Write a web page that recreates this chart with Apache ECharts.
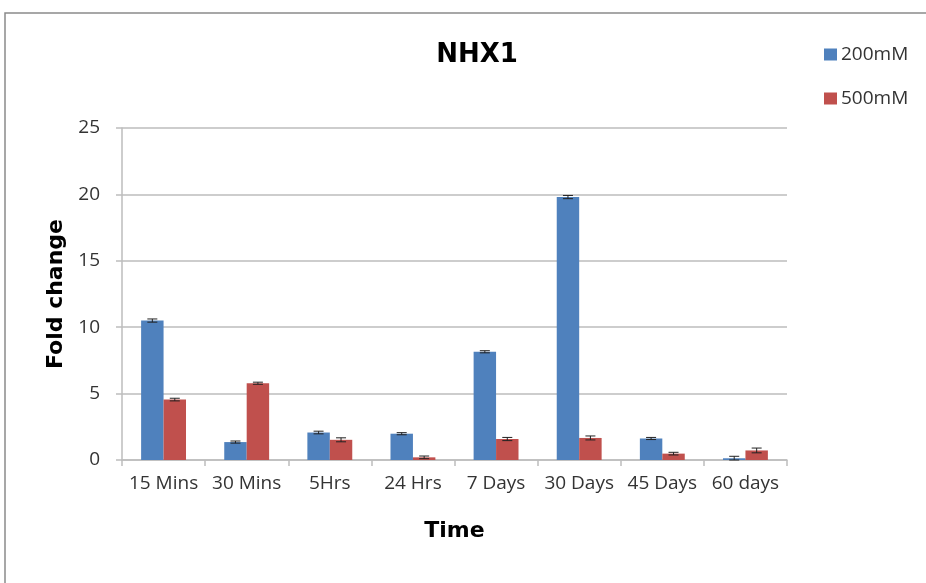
<!DOCTYPE html>
<html>
<head>
<meta charset="utf-8">
<script src="https://cdn.jsdelivr.net/npm/echarts@6/dist/echarts.min.js"></script>
<style>html,body{margin:0;padding:0;background:#fff}#c{width:926px;height:583px}</style>
</head>
<body>
<div id="c"></div>
<script>
var categories = ['15 Mins', '30 Mins', '5Hrs', '24 Hrs', '7 Days', '30 Days', '45 Days', '60 days'];
var values200 = [10.5, 1.35, 2.07, 1.98, 8.15, 19.8, 1.62, 0.13];
var values500 = [4.55, 5.78, 1.52, 0.2, 1.58, 1.66, 0.48, 0.72];
var err200 = [0.12, 0.08, 0.1, 0.08, 0.08, 0.12, 0.08, 0.15];
var err500 = [0.1, 0.08, 0.15, 0.1, 0.12, 0.15, 0.1, 0.18];
var yTicks = [0, 5, 10, 15, 20, 25];

var BLUE = '#4F81BD', RED = '#C0504D';
var catGap = 0.46;
var FONT = 'Open Sans';

function errSeries(vals, errs, side) {
  return {
    type: 'custom',
    z: 5,
    silent: true,
    data: vals.map(function (v, i) { return [i, v, errs[i]]; }),
    renderItem: function (params, api) {
      var i = api.value(0), v = api.value(1), e = api.value(2);
      var band = api.size([1, 0])[0];
      var barW = band * (1 - catGap) / 2;
      var c = api.coord([i, v]);
      var x = c[0] + side * barW / 2;
      var top = api.coord([i, v + e])[1];
      var bot = api.coord([i, Math.max(0, v - e)])[1];
      var style = { stroke: '#222', lineWidth: 1 };
      return {
        type: 'group',
        children: [
          { type: 'line', shape: { x1: x, y1: top, x2: x, y2: bot }, style: style },
          { type: 'line', shape: { x1: x - 5, y1: top, x2: x + 5, y2: top }, style: style },
          { type: 'line', shape: { x1: x - 5, y1: bot, x2: x + 5, y2: bot }, style: style }
        ]
      };
    }
  };
}

var chart = echarts.init(document.getElementById('c'), null, { renderer: 'canvas' });
chart.setOption({
  animation: false,
  backgroundColor: '#fff',
  textStyle: { fontFamily: FONT },
  title: {
    text: 'NHX1',
    left: 472, top: 37,
    textAlign: 'center',
    textStyle: { fontFamily: 'DejaVu Sans', fontWeight: 'bold', fontSize: 26, color: '#000' }
  },
  legend: {
    orient: 'vertical',
    left: 819, top: 40,
    itemWidth: 13, itemHeight: 12, itemGap: 25,
    icon: 'rect',
    textStyle: { fontFamily: FONT, fontSize: 19, color: '#333', padding: [0, 0, 0, -1] },
    data: ['200mM', '500mM']
  },
  graphic: [{
    type: 'rect',
    shape: { x: 5, y: 13, width: 940, height: 600 },
    style: { fill: 'none', stroke: '#8a8a8a', lineWidth: 1.5 },
    silent: true
  }],
  grid: { left: 122, right: 139, top: 128, bottom: 123, containLabel: false },
  xAxis: {
    type: 'category',
    data: categories,
    name: 'Time',
    nameLocation: 'middle',
    nameGap: 60,
    nameTextStyle: { fontFamily: 'DejaVu Sans', fontWeight: 'bold', fontSize: 22, color: '#000' },
    axisLine: { lineStyle: { color: '#bdbdbd', width: 1.5 } },
    axisTick: { show: true, length: 6, lineStyle: { color: '#bdbdbd', width: 1.5 } },
    axisLabel: { fontFamily: FONT, fontSize: 19, color: '#333', margin: 14, interval: 0 }
  },
  yAxis: {
    type: 'value',
    min: 0, max: 25, interval: 5,
    name: 'Fold change',
    nameLocation: 'middle',
    nameGap: 55,
    nameTextStyle: { fontFamily: 'DejaVu Sans', fontWeight: 'bold', fontSize: 22, color: '#000' },
    axisLine: { show: true, lineStyle: { color: '#bdbdbd', width: 1.5 } },
    axisTick: { show: true, length: 6, lineStyle: { color: '#bdbdbd', width: 1.5 } },
    splitLine: { lineStyle: { color: '#bdbdbd', width: 1.5 } },
    axisLabel: {
      fontFamily: FONT, fontSize: 19, color: '#333', margin: 22,
      formatter: function (v) { return yTicks.indexOf(v) >= 0 ? String(v) : ''; }
    }
  },
  series: [
    { name: '200mM', type: 'bar', data: values200, itemStyle: { color: BLUE }, barGap: '0%', barCategoryGap: (catGap * 100) + '%' },
    { name: '500mM', type: 'bar', data: values500, itemStyle: { color: RED }, barGap: '0%', barCategoryGap: (catGap * 100) + '%' },
    errSeries(values200, err200, -1),
    errSeries(values500, err500, 1)
  ]
});
</script>
</body>
</html>
